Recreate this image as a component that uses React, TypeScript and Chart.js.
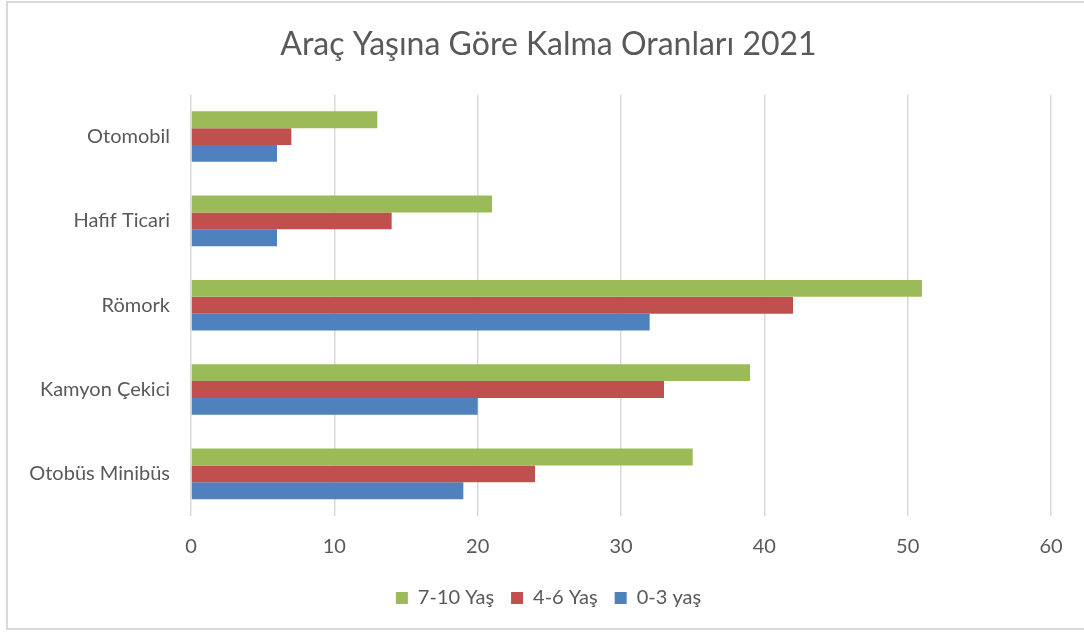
import React, { useEffect, useRef } from "react";
import { Chart, registerables } from "chart.js";

Chart.register(...registerables);

const categories = ["Otomobil", "Hafif Ticari", "Römork", "Kamyon Çekici", "Otobüs Minibüs"];
const seriesNames = ["7-10 Yaş", "4-6 Yaş", "0-3 yaş"];
const values710 = [13, 21, 51, 39, 35];
const values46 = [7, 14, 42, 33, 24];
const values03 = [6, 6, 32, 20, 19];
const seriesColors = ["#9BBB59", "#C0504D", "#4F81BD"];
const titleText = "Araç Yaşına Göre Kalma Oranları 2021";
const xMin = 0;
const xMax = 60;
const xStep = 10;

const FONT = "Lato, 'Open Sans', sans-serif";
const TEXT = "#595959";

export default function App() {
  const ref = useRef<HTMLCanvasElement | null>(null);

  useEffect(() => {
    if (!ref.current) return;
    const seriesValues = [values710, values46, values03];
    const chart = new Chart(ref.current, {
      type: "bar",
      data: {
        labels: categories,
        datasets: seriesNames.map((name, i) => ({
          label: name,
          data: seriesValues[i],
          backgroundColor: seriesColors[i],
          borderWidth: 0,
          categoryPercentage: 0.6,
          barPercentage: 1.0,
          yAxisID: "y",
        })),
      },
      options: {
        indexAxis: "y",
        animation: false,
        responsive: false,
        maintainAspectRatio: false,
        layout: { padding: { top: 0, bottom: 19, left: 0, right: 0 } },
        plugins: {
          title: {
            display: true,
            text: titleText,
            color: TEXT,
            font: { family: FONT, size: 32, weight: "normal" },
            padding: { top: 25, bottom: 31 },
          },
          legend: {
            position: "bottom",
            labels: {
              color: TEXT,
              font: { family: FONT, size: 20 },
              boxWidth: 12,
              boxHeight: 12,
              padding: 17,
            },
          },
          tooltip: { enabled: false },
        },
        scales: {
          x: {
            min: xMin,
            max: xMax,
            ticks: {
              stepSize: xStep,
              color: TEXT,
              font: { family: FONT, size: 20 },
              padding: 19,
            },
            grid: { color: "#d9d9d9", lineWidth: 1.5, drawTicks: false },
            border: { display: false },
            afterFit: (s: any) => {
              s.height = 55;
            },
          },
          y: {
            ticks: {
              color: TEXT,
              font: { family: FONT, size: 20 },
              padding: 21,
            },
            grid: { display: false, drawTicks: false },
            border: { display: false },
            afterFit: (s: any) => {
              s.width = 184;
            },
          },
          yRight: {
            type: "category",
            position: "right",
            labels: categories,
            ticks: { display: false },
            grid: { display: false, drawTicks: false },
            border: { display: false },
            afterFit: (s: any) => {
              s.width = 39;
            },
          },
        },
      },
    });
    return () => chart.destroy();
  }, []);

  return (
    <div
      style={{
        position: "absolute",
        left: 0,
        top: 0,
        width: 1084,
        height: 637,
        overflow: "hidden",
        background: "#fff",
      }}
    >
      <div
        style={{
          position: "absolute",
          left: 6,
          top: 1,
          width: 1100,
          height: 629,
          border: "2px solid #d9d9d9",
          boxSizing: "border-box",
        }}
      />
      <canvas
        ref={ref}
        width={1083}
        height={637}
        style={{ position: "absolute", left: 7, top: 0, width: 1083, height: 637 }}
      />
    </div>
  );
}
